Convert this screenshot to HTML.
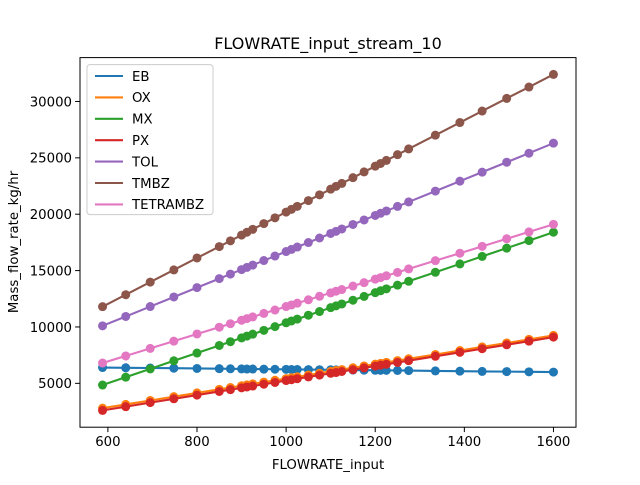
<!DOCTYPE html>
<html><head><meta charset="utf-8"><style>
body{margin:0;background:#fff}
svg{font-family:"DejaVu Sans","Liberation Sans",sans-serif}
</style></head><body>
<svg id="chart" width="640" height="480" viewBox="0 0 640 480">
<rect width="640" height="480" fill="#fff"/>
<text x="328" y="49" font-size="16" text-anchor="middle">FLOWRATE_input_stream_10</text>
<g id="plot"></g>
<rect x="80" y="57.6" width="496" height="369.6" fill="none" stroke="#000" stroke-width="1"/>
<g id="xt"></g>
<g id="yt"></g>
<text x="328" y="469" font-size="13.3" text-anchor="middle">FLOWRATE_input</text>
<text transform="translate(18,242) rotate(-90)" font-size="13.3" text-anchor="middle">Mass_flow_rate_kg/hr</text>
<g id="legend"></g>
</svg>
<script>
const xs=[588,640,695,748,800,850,875,900,912,925,950,975,1000,1012,1025,1050,1075,1100,1112,1125,1150,1175,1200,1212,1225,1250,1275,1335,1390,1440,1495,1545,1600];
const names=["EB","OX","MX","PX","TOL","TMBZ","TETRAMBZ"];
const colors=["#1f77b4","#ff7f0e","#2ca02c","#d62728","#9467bd","#8c564b","#e377c2"];
const EB=[6400,6380,6360,6340,6320,6300,6290,6280,6270,6270,6260,6250,6240,6230,6230,6220,6210,6200,6190,6190,6180,6170,6160,6150,6150,6140,6130,6100,6080,6060,6040,6020,6000];
const OX=[2800,3130,3480,3820,4150,4470,4630,4790,4860,4950,5110,5270,5420,5500,5580,5740,5900,6060,6140,6220,6380,6540,6700,6770,6860,7020,7180,7560,7910,8230,8580,8900,9250];
const MX=[4850,5550,6280,7000,7690,8360,8690,9030,9190,9360,9700,10030,10370,10530,10700,11040,11370,11710,11870,12040,12370,12710,13040,13210,13380,13710,14050,14850,15590,16260,16990,17660,18400];
const PX=[2600,2930,3290,3630,3960,4280,4440,4600,4680,4760,4920,5080,5250,5320,5410,5570,5730,5890,5960,6050,6210,6370,6530,6610,6690,6850,7010,7400,7750,8070,8420,8740,9100];
const TOL=[10100,10930,11810,12660,13490,14290,14690,15090,15280,15490,15890,16290,16690,16880,17090,17490,17890,18290,18480,18690,19090,19490,19890,20080,20290,20690,21090,22050,22930,23730,24610,25410,26300];
const TMBZ=[11800,12860,13980,15060,16120,17130,17640,18150,18400,18660,19170,19680,20190,20430,20700,21210,21720,22220,22470,22730,23240,23750,24260,24500,24770,25280,25790,27010,28130,29150,30270,31280,32400];
const TETRAMBZ=[6800,7430,8100,8740,9380,9980,10290,10590,10740,10890,11200,11500,11810,11950,12110,12410,12720,13020,13170,13320,13630,13930,14240,14380,14540,14840,15150,15880,16540,17150,17820,18430,19100];
const xTicks=[600,800,1000,1200,1400,1600];
const yTicks=[5000,10000,15000,20000,25000,30000];
const series=[EB,OX,MX,PX,TOL,TMBZ,TETRAMBZ];
const NS="http://www.w3.org/2000/svg";
const L=80,R=576,T=57.6,B=427.2;
function ext(a){return [Math.min(...a),Math.max(...a)];}
const [x0,x1]=ext(xs);const xm=(x1-x0)*0.05;
const all=[].concat(...series);const [y0,y1]=ext(all);const ym=(y1-y0)*0.05;
const sx=v=>L+(v-(x0-xm))/((x1+xm)-(x0-xm))*(R-L);
const sy=v=>B-(v-(y0-ym))/((y1+ym)-(y0-ym))*(B-T);
function mk(tag,attrs,parent){const e=document.createElementNS(NS,tag);for(const k in attrs)e.setAttribute(k,attrs[k]);parent.appendChild(e);return e;}
const plot=document.getElementById('plot');
series.forEach((s,i)=>{
 const g=mk('g',{},plot);
 
 
 const pl=mk('polyline',{points:s.map((v,j)=>sx(xs[j])+','+sy(v)).join(' '),fill:'none',stroke:colors[i],'stroke-width':2.1},g);
 
 
 s.forEach((v,j)=>{const c=mk('circle',{cx:sx(xs[j]),cy:sy(v),r:4.5,fill:colors[i]},g);
  
  });
});
const xt=document.getElementById('xt');
xTicks.forEach(t=>{const x=sx(t);
 const l=mk('line',{x1:x,x2:x,y1:B,y2:B+4.9,stroke:'#000','stroke-width':1},xt);
 
 
 const tx=mk('text',{x:x,y:B+19,'font-size':13.3,'text-anchor':'middle'},xt);tx.textContent=t;
 
 });
const yt=document.getElementById('yt');
yTicks.forEach(t=>{const y=sy(t);
 const l=mk('line',{x1:L-4.9,x2:L,y1:y,y2:y,stroke:'#000','stroke-width':1},yt);
 
 
 const tx=mk('text',{x:L-8,y:y+4.8,'font-size':13.3,'text-anchor':'end'},yt);tx.textContent=t;
 
 });
const lg=document.getElementById('legend');
const box=mk('rect',{x:87,y:64.6,width:126,height:150,rx:3,fill:'#fff','fill-opacity':0.8,stroke:'#ccc','stroke-width':1},lg);


names.forEach((n,i)=>{const y=76+i*21.4;
 const g=mk('g',{},lg);
 
 
 mk('line',{x1:95,x2:123,y1:y,y2:y,stroke:colors[i],'stroke-width':2.1},g);
 const tx=mk('text',{x:132,y:y+4.8,'font-size':13.3},g);tx.textContent=n;});
</script>
</body></html>
